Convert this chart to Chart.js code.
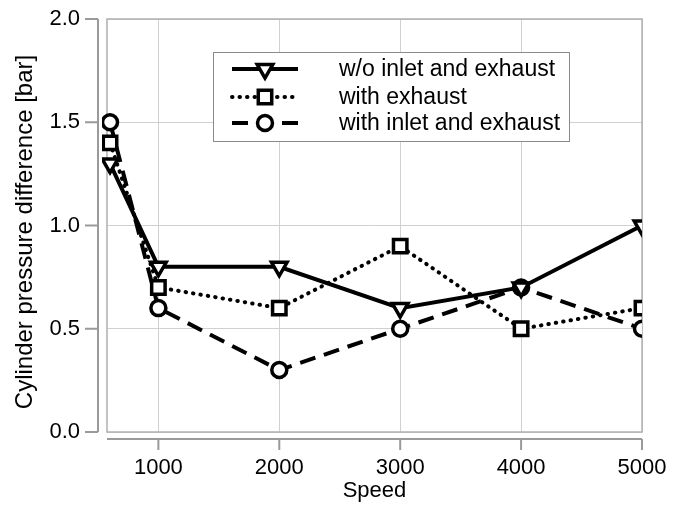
<!DOCTYPE html>
<html>
<head>
<meta charset="utf-8">
<script src="https://cdn.jsdelivr.net/npm/chart.js@4.4.1/dist/chart.umd.min.js"></script>
<style>
    body { margin: 0; background: #fff; }
    #wrap { width: 680px; height: 505px; }
</style>
</head>
<body>
<div id="wrap"><canvas id="pressure-chart" width="680" height="505"></canvas></div>
<script>
// Data
const speeds = [600, 1000, 2000, 3000, 4000, 5000];
const woInletExhaust = [1.3, 0.8, 0.8, 0.6, 0.7, 1.0];
const withExhaust = [1.4, 0.7, 0.6, 0.9, 0.5, 0.6];
const withInletExhaust = [1.5, 0.6, 0.3, 0.5, 0.7, 0.5];
const seriesNames = ["w/o inlet and exhaust", "with exhaust", "with inlet and exhaust"];
const xTickValues = [1000, 2000, 3000, 4000, 5000];
const yTickValues = [0, 0.5, 1.0, 1.5, 2.0];
const yTitle = "Cylinder pressure difference [bar]";

const FONT = "'Liberation Sans', Arial, sans-serif";

function toPoints(values) {
    return speeds.map(function (s, i) { return { x: s, y: values[i] }; });
}

// Plot frame + offset axis lines + y title (as in the original figure)
const framePlugin = {
    id: 'frame',
    beforeDatasetsDraw: function (chart) {
        const a = chart.chartArea, ctx = chart.ctx;
        ctx.save();
        ctx.strokeStyle = '#b0b0b0';
        ctx.lineWidth = 1.5;
        ctx.strokeRect(a.left, a.top, a.right - a.left, a.bottom - a.top);
        ctx.restore();
    },
    afterDraw: function (chart) {
        const a = chart.chartArea, ctx = chart.ctx;
        const x = chart.scales.x, y = chart.scales.y;
        ctx.save();
        ctx.strokeStyle = '#9a9a9a';
        ctx.lineWidth = 2;
        ctx.beginPath();
        // y axis line, shifted left of plot
        ctx.moveTo(a.left - 9, a.top);
        ctx.lineTo(a.left - 9, a.bottom);
        yTickValues.forEach(function (v) {
            const py = y.getPixelForValue(v);
            ctx.moveTo(a.left - 22, py);
            ctx.lineTo(a.left - 9, py);
        });
        // x axis line, shifted below plot
        ctx.moveTo(a.left, a.bottom + 7);
        ctx.lineTo(a.right, a.bottom + 7);
        xTickValues.forEach(function (v) {
            const px = x.getPixelForValue(v);
            ctx.moveTo(px, a.bottom + 7);
            ctx.lineTo(px, a.bottom + 18);
        });
        ctx.stroke();

        // y axis title
        ctx.translate(25, 232);
        ctx.rotate(-Math.PI / 2);
        ctx.fillStyle = '#000';
        ctx.font = '24px ' + FONT;
        ctx.textAlign = 'center';
        ctx.textBaseline = 'middle';
        ctx.fillText(yTitle, 0, 0);
        ctx.restore();
    }
};

// Legend box with line samples and markers
const legendPlugin = {
    id: 'boxLegend',
    afterDraw: function (chart) {
        const ctx = chart.ctx;
        const box = { left: 213, top: 52, right: 569, bottom: 141 };
        const rows = [69, 97, 123];
        ctx.save();
        ctx.fillStyle = '#fff';
        ctx.fillRect(box.left, box.top, box.right - box.left, box.bottom - box.top);
        ctx.strokeStyle = '#8a8a8a';
        ctx.lineWidth = 1;
        ctx.strokeRect(box.left + 0.5, box.top + 0.5, box.right - box.left, box.bottom - box.top);
        chart.data.datasets.forEach(function (ds, i) {
            const ry = rows[i];
            ctx.save();
            ctx.strokeStyle = '#000';
            ctx.lineWidth = ds.borderWidth;
            ctx.lineCap = ds.borderCapStyle || 'butt';
            ctx.setLineDash(ds.borderDash || []);
            ctx.beginPath();
            ctx.moveTo(232, ry);
            ctx.lineTo(298, ry);
            ctx.stroke();
            ctx.restore();
            ctx.save();
            ctx.fillStyle = '#fff';
            ctx.strokeStyle = '#000';
            ctx.lineWidth = ds.pointBorderWidth;
            Chart.helpers.drawPoint(ctx, {
                pointStyle: ds.pointStyle,
                radius: ds.pointRadius,
                rotation: ds.pointRotation || 0,
                borderWidth: ds.pointBorderWidth
            }, 265, ry);
            ctx.restore();
            ctx.fillStyle = '#000';
            ctx.font = '23px ' + FONT;
            ctx.textBaseline = 'middle';
            ctx.textAlign = 'left';
            ctx.fillText(seriesNames[i], 339, ry + 1);
        });
        ctx.restore();
    }
};

const lineClip = { left: 5, top: 0, right: 0, bottom: 0 };

new Chart(document.getElementById('pressure-chart').getContext('2d'), {
    type: 'line',
    data: {
        datasets: [{
            label: seriesNames[0],
            data: toPoints(woInletExhaust),
            borderColor: '#000',
            borderWidth: 4,
            pointStyle: 'triangle',
            pointRotation: 180,
            pointRadius: 9,
            pointBorderWidth: 3.5,
            pointBackgroundColor: '#fff',
            pointBorderColor: '#000',
            clip: lineClip
        }, {
            label: seriesNames[1],
            data: toPoints(withExhaust),
            borderColor: '#000',
            borderWidth: 4,
            borderDash: [0.5, 7],
            borderCapStyle: 'round',
            pointStyle: 'rect',
            pointRadius: 9.5,
            pointBorderWidth: 3.5,
            pointBackgroundColor: '#fff',
            pointBorderColor: '#000',
            clip: lineClip
        }, {
            label: seriesNames[2],
            data: toPoints(withInletExhaust),
            borderColor: '#000',
            borderWidth: 4,
            borderDash: [16, 9],
            pointStyle: 'circle',
            pointRadius: 7.5,
            pointBorderWidth: 3.5,
            pointBackgroundColor: '#fff',
            pointBorderColor: '#000',
            clip: lineClip
        }]
    },
    options: {
        responsive: false,
        animation: false,
        layout: { padding: { top: 19, right: 38, left: 0, bottom: 0 } },
        plugins: {
            legend: { display: false },
            tooltip: { enabled: false }
        },
        scales: {
            x: {
                type: 'linear',
                min: 575,
                max: 5000,
                afterBuildTicks: function (scale) {
                    scale.ticks = xTickValues.map(function (v) { return { value: v }; });
                },
                afterFit: function (scale) {
                    scale.height = 73;
                    scale.paddingLeft = 0;
                    scale.paddingRight = 20;
                },
                grid: { color: '#d0d0d0', lineWidth: 1, drawTicks: false },
                border: { display: false },
                ticks: {
                    color: '#000',
                    padding: 23,
                    maxRotation: 0,
                    font: { family: FONT, size: 22 },
                    callback: function (v) { return String(v); }
                },
                title: {
                    display: true,
                    text: 'Speed',
                    color: '#000',
                    font: { family: FONT, size: 22 },
                    padding: { top: 0, bottom: 1 }
                }
            },
            y: {
                min: 0,
                max: 2,
                afterBuildTicks: function (scale) {
                    scale.ticks = yTickValues.map(function (v) { return { value: v }; });
                },
                afterFit: function (scale) {
                    scale.width = 107;
                    scale.paddingTop = 12;
                    scale.paddingBottom = 12;
                },
                grid: { color: '#d0d0d0', lineWidth: 1, drawTicks: false },
                border: { display: false },
                ticks: {
                    color: '#000',
                    padding: 27,
                    font: { family: FONT, size: 22 },
                    callback: function (v) { return v.toFixed(1); }
                },
                title: { display: false }
            }
        }
    },
    plugins: [framePlugin, legendPlugin]
});
</script>
</body>
</html>
